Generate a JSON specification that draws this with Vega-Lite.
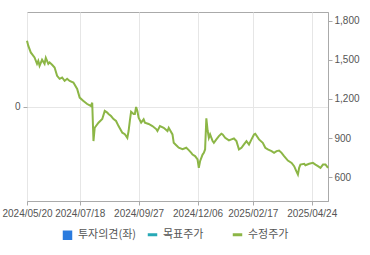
{
  "$schema": "https://vega.github.io/schema/vega-lite/v6.json",
  "width": 301,
  "height": 189,
  "autosize": {"type": "none"},
  "padding": {"left": 27, "top": 12, "right": 42, "bottom": 54},
  "background": "white",
  "config": {
    "view": {"stroke": "#aaaaaa", "strokeWidth": 1},
    "axis": {
      "labelFont": "Liberation Sans",
      "labelFontSize": 10,
      "labelColor": "#555555",
      "tickColor": "#aaaaaa",
      "domainColor": "#aaaaaa",
      "gridColor": "#e6e6e6",
      "tickSize": 4,
      "title": null
    }
  },
  "layer": [
    {
      "data": {"values": [{"opinion": 0}]},
      "mark": {"type": "point", "opacity": 0},
      "encoding": {
        "y": {
          "field": "opinion",
          "type": "quantitative",
          "scale": {"domain": [-1, 1], "nice": false, "zero": false},
          "axis": {"orient": "left", "values": [0], "grid": true, "labelPadding": 3, "domain": false}
        }
      }
    },
    {
      "data": {"values": [
        {"date": "2024/05/20", "price": 1646},
        {"date": "2024/05/21", "price": 1608},
        {"date": "2024/05/23", "price": 1556},
        {"date": "2024/05/28", "price": 1518},
        {"date": "2024/05/30", "price": 1469},
        {"date": "2024/05/31", "price": 1492},
        {"date": "2024/06/03", "price": 1454},
        {"date": "2024/06/05", "price": 1500},
        {"date": "2024/06/10", "price": 1469},
        {"date": "2024/06/11", "price": 1515},
        {"date": "2024/06/13", "price": 1469},
        {"date": "2024/06/14", "price": 1480},
        {"date": "2024/06/18", "price": 1462},
        {"date": "2024/06/20", "price": 1441},
        {"date": "2024/06/24", "price": 1377},
        {"date": "2024/06/26", "price": 1354},
        {"date": "2024/06/28", "price": 1364},
        {"date": "2024/07/02", "price": 1338},
        {"date": "2024/07/04", "price": 1354},
        {"date": "2024/07/08", "price": 1338},
        {"date": "2024/07/11", "price": 1326},
        {"date": "2024/07/16", "price": 1277},
        {"date": "2024/07/18", "price": 1210},
        {"date": "2024/07/23", "price": 1185},
        {"date": "2024/07/26", "price": 1161},
        {"date": "2024/07/31", "price": 1146},
        {"date": "2024/08/01", "price": 1171},
        {"date": "2024/08/02", "price": 877},
        {"date": "2024/08/05", "price": 979},
        {"date": "2024/08/08", "price": 1018},
        {"date": "2024/08/13", "price": 1046},
        {"date": "2024/08/16", "price": 1108},
        {"date": "2024/08/20", "price": 1095},
        {"date": "2024/08/21", "price": 1085},
        {"date": "2024/08/23", "price": 1069},
        {"date": "2024/08/27", "price": 1046},
        {"date": "2024/08/29", "price": 1031},
        {"date": "2024/09/02", "price": 992},
        {"date": "2024/09/05", "price": 941},
        {"date": "2024/09/09", "price": 930},
        {"date": "2024/09/11", "price": 902},
        {"date": "2024/09/12", "price": 954},
        {"date": "2024/09/13", "price": 1031},
        {"date": "2024/09/19", "price": 1102},
        {"date": "2024/09/23", "price": 1085},
        {"date": "2024/09/24", "price": 1085},
        {"date": "2024/09/25", "price": 1138},
        {"date": "2024/09/26", "price": 1108},
        {"date": "2024/09/27", "price": 1056},
        {"date": "2024/10/02", "price": 1018},
        {"date": "2024/10/07", "price": 1044},
        {"date": "2024/10/08", "price": 1018},
        {"date": "2024/10/14", "price": 1008},
        {"date": "2024/10/17", "price": 992},
        {"date": "2024/10/22", "price": 969},
        {"date": "2024/10/23", "price": 954},
        {"date": "2024/10/25", "price": 992},
        {"date": "2024/10/30", "price": 979},
        {"date": "2024/11/04", "price": 954},
        {"date": "2024/11/05", "price": 979},
        {"date": "2024/11/08", "price": 928},
        {"date": "2024/11/11", "price": 864},
        {"date": "2024/11/13", "price": 845},
        {"date": "2024/11/15", "price": 826},
        {"date": "2024/11/20", "price": 815},
        {"date": "2024/11/25", "price": 826},
        {"date": "2024/11/27", "price": 808},
        {"date": "2024/11/29", "price": 787},
        {"date": "2024/12/02", "price": 774},
        {"date": "2024/12/04", "price": 762},
        {"date": "2024/12/06", "price": 736},
        {"date": "2024/12/09", "price": 672},
        {"date": "2024/12/10", "price": 723},
        {"date": "2024/12/12", "price": 774},
        {"date": "2024/12/13", "price": 787},
        {"date": "2024/12/16", "price": 813},
        {"date": "2024/12/17", "price": 1051},
        {"date": "2024/12/18", "price": 960},
        {"date": "2024/12/19", "price": 902},
        {"date": "2024/12/20", "price": 928},
        {"date": "2024/12/24", "price": 877},
        {"date": "2024/12/26", "price": 864},
        {"date": "2024/12/30", "price": 890},
        {"date": "2025/01/03", "price": 915},
        {"date": "2025/01/07", "price": 933},
        {"date": "2025/01/08", "price": 928},
        {"date": "2025/01/10", "price": 902},
        {"date": "2025/01/15", "price": 882},
        {"date": "2025/01/17", "price": 890},
        {"date": "2025/01/21", "price": 897},
        {"date": "2025/01/23", "price": 877},
        {"date": "2025/01/31", "price": 813},
        {"date": "2025/02/04", "price": 826},
        {"date": "2025/02/06", "price": 851},
        {"date": "2025/02/10", "price": 877},
        {"date": "2025/02/12", "price": 851},
        {"date": "2025/02/14", "price": 890},
        {"date": "2025/02/18", "price": 928},
        {"date": "2025/02/19", "price": 933},
        {"date": "2025/02/24", "price": 890},
        {"date": "2025/02/27", "price": 864},
        {"date": "2025/03/04", "price": 826},
        {"date": "2025/03/06", "price": 813},
        {"date": "2025/03/11", "price": 800},
        {"date": "2025/03/13", "price": 787},
        {"date": "2025/03/17", "price": 800},
        {"date": "2025/03/19", "price": 805},
        {"date": "2025/03/21", "price": 787},
        {"date": "2025/03/25", "price": 762},
        {"date": "2025/03/28", "price": 728},
        {"date": "2025/04/02", "price": 710},
        {"date": "2025/04/04", "price": 685},
        {"date": "2025/04/08", "price": 641},
        {"date": "2025/04/09", "price": 621},
        {"date": "2025/04/10", "price": 672},
        {"date": "2025/04/11", "price": 697},
        {"date": "2025/04/16", "price": 703},
        {"date": "2025/04/17", "price": 692},
        {"date": "2025/04/22", "price": 703},
        {"date": "2025/04/25", "price": 710},
        {"date": "2025/04/29", "price": 697},
        {"date": "2025/05/02", "price": 685},
        {"date": "2025/05/08", "price": 672},
        {"date": "2025/05/12", "price": 697},
        {"date": "2025/05/14", "price": 697},
        {"date": "2025/05/15", "price": 685},
        {"date": "2025/05/16", "price": 672}
      ]},
      "mark": {"type": "line", "strokeWidth": 2, "interpolate": "linear"},
      "encoding": {
        "x": {
          "field": "date",
          "type": "ordinal",
          "sort": null,
          "scale": {
            "type": "point",
            "padding": 0,
            "domain": [
              "2024/05/20","2024/05/21","2024/05/22","2024/05/23","2024/05/24","2024/05/27","2024/05/28","2024/05/29","2024/05/30","2024/05/31",
              "2024/06/03","2024/06/04","2024/06/05","2024/06/07","2024/06/10","2024/06/11","2024/06/12","2024/06/13","2024/06/14","2024/06/17","2024/06/18","2024/06/19","2024/06/20","2024/06/21","2024/06/24","2024/06/25","2024/06/26","2024/06/27","2024/06/28",
              "2024/07/01","2024/07/02","2024/07/03","2024/07/04","2024/07/05","2024/07/08","2024/07/09","2024/07/10","2024/07/11","2024/07/12","2024/07/15","2024/07/16","2024/07/17","2024/07/18","2024/07/19","2024/07/22","2024/07/23","2024/07/24","2024/07/25","2024/07/26","2024/07/29","2024/07/30","2024/07/31",
              "2024/08/01","2024/08/02","2024/08/05","2024/08/06","2024/08/07","2024/08/08","2024/08/09","2024/08/12","2024/08/13","2024/08/14","2024/08/16","2024/08/19","2024/08/20","2024/08/21","2024/08/22","2024/08/23","2024/08/26","2024/08/27","2024/08/28","2024/08/29","2024/08/30",
              "2024/09/02","2024/09/03","2024/09/04","2024/09/05","2024/09/06","2024/09/09","2024/09/10","2024/09/11","2024/09/12","2024/09/13","2024/09/19","2024/09/20","2024/09/23","2024/09/24","2024/09/25","2024/09/26","2024/09/27","2024/09/30",
              "2024/10/02","2024/10/04","2024/10/07","2024/10/08","2024/10/10","2024/10/11","2024/10/14","2024/10/15","2024/10/16","2024/10/17","2024/10/18","2024/10/21","2024/10/22","2024/10/23","2024/10/24","2024/10/25","2024/10/28","2024/10/29","2024/10/30","2024/10/31",
              "2024/11/01","2024/11/04","2024/11/05","2024/11/06","2024/11/07","2024/11/08","2024/11/11","2024/11/12","2024/11/13","2024/11/14","2024/11/15","2024/11/18","2024/11/19","2024/11/20","2024/11/21","2024/11/22","2024/11/25","2024/11/26","2024/11/27","2024/11/28","2024/11/29",
              "2024/12/02","2024/12/03","2024/12/04","2024/12/05","2024/12/06","2024/12/09","2024/12/10","2024/12/11","2024/12/12","2024/12/13","2024/12/16","2024/12/17","2024/12/18","2024/12/19","2024/12/20","2024/12/23","2024/12/24","2024/12/26","2024/12/27","2024/12/30",
              "2025/01/02","2025/01/03","2025/01/06","2025/01/07","2025/01/08","2025/01/09","2025/01/10","2025/01/13","2025/01/14","2025/01/15","2025/01/16","2025/01/17","2025/01/20","2025/01/21","2025/01/22","2025/01/23","2025/01/24","2025/01/31",
              "2025/02/03","2025/02/04","2025/02/05","2025/02/06","2025/02/07","2025/02/10","2025/02/11","2025/02/12","2025/02/13","2025/02/14","2025/02/17","2025/02/18","2025/02/19","2025/02/20","2025/02/21","2025/02/24","2025/02/25","2025/02/26","2025/02/27","2025/02/28",
              "2025/03/04","2025/03/05","2025/03/06","2025/03/07","2025/03/10","2025/03/11","2025/03/12","2025/03/13","2025/03/14","2025/03/17","2025/03/18","2025/03/19","2025/03/20","2025/03/21","2025/03/24","2025/03/25","2025/03/26","2025/03/27","2025/03/28","2025/03/31",
              "2025/04/01","2025/04/02","2025/04/03","2025/04/04","2025/04/07","2025/04/08","2025/04/09","2025/04/10","2025/04/11","2025/04/14","2025/04/15","2025/04/16","2025/04/17","2025/04/18","2025/04/21","2025/04/22","2025/04/23","2025/04/24","2025/04/25","2025/04/28","2025/04/29","2025/04/30",
              "2025/05/02","2025/05/07","2025/05/08","2025/05/09","2025/05/12","2025/05/13","2025/05/14","2025/05/15","2025/05/16"
            ]
          },
          "axis": {
            "values": ["2024/05/20", "2024/07/18", "2024/09/27", "2024/12/06", "2025/02/17", "2025/04/24"],
            "grid": true,
            "labelAngle": 0,
            "labelOverlap": false,
            "labelFlush": false,
            "labelPadding": 3
          }
        },
        "y": {
          "field": "price",
          "type": "quantitative",
          "scale": {"domain": [418, 1866], "nice": false, "zero": false},
          "axis": {"orient": "right", "values": [600, 900, 1200, 1500, 1800], "format": ",d", "grid": false, "labelPadding": 2}
        },
        "color": {
          "datum": "수정주가",
          "type": "nominal",
          "scale": {"domain": ["투자의견(좌)", "목표주가", "수정주가"], "range": ["#2b7bde", "#27a9b6", "#8cb646"]},
          "legend": {
            "title": null,
            "orient": "none",
            "legendX": 35,
            "legendY": 217,
            "direction": "horizontal",
            "columns": 3,
            "gridAlign": "all",
            "columnPadding": 4,
            "padding": 0,
            "symbolSize": 90,
            "symbolStrokeWidth": 3,
            "labelFont": "Noto Sans CJK KR",
            "labelFontSize": 11,
            "labelColor": "#555555",
            "labelOffset": 5,
            "encode": {
              "symbols": {
                "update": {
                  "shape": {"signal": "datum.value === '투자의견(좌)' ? 'square' : 'stroke'"},
                  "fill": {"signal": "datum.value === '투자의견(좌)' ? '#2b7bde' : 'transparent'"},
                  "strokeWidth": {"signal": "datum.value === '투자의견(좌)' ? 0 : 3"}
                }
              }
            }
          }
        }
      }
    }
  ],
  "resolve": {"scale": {"y": "independent"}}
}
